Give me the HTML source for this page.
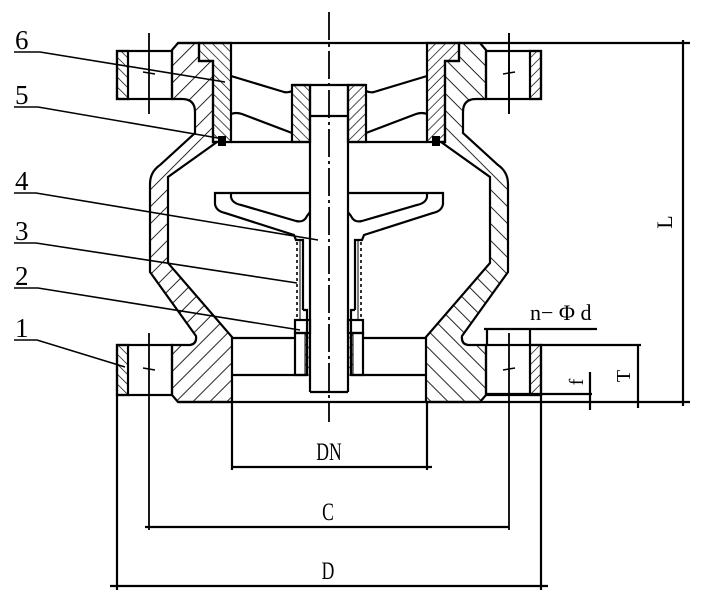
<!DOCTYPE html>
<html><head><meta charset="utf-8"><style>
html,body{margin:0;padding:0;background:#fff;}
svg{display:block;}
text{font-family:"Liberation Serif","Noto Serif CJK SC",serif;fill:#000;}
</style></head><body>
<svg width="711" height="610" viewBox="0 0 711 610" xmlns="http://www.w3.org/2000/svg">
<defs>
<pattern id="hA" patternUnits="userSpaceOnUse" width="12" height="12" patternTransform="rotate(45)">
<line x1="0" y1="0" x2="0" y2="12" stroke="#000" stroke-width="1.7"/></pattern>
<pattern id="hB" patternUnits="userSpaceOnUse" width="7" height="7" patternTransform="rotate(-45)">
<line x1="0" y1="0" x2="0" y2="7" stroke="#000" stroke-width="1.4"/></pattern>
<g id="half" fill="none" stroke="#000" stroke-width="2.2">
<path fill="url(#hA)" d="M178,43 L199,43 L199,61 L213,61 L213,142 L217,142 L168,177 L168,263 L232,337 L232,402 L178,402 L172,395 L172,345 L190,345 Q197,344 196,336 L150,272 L150,184 Q150,172 160,165 L195,133 L195,112 Q195,99 182,99 L172,99 L172,50 Z"/>
<path fill="url(#hB)" d="M199,43 L231,43 L231,142 L213,142 L213,61 L199,61 Z"/>
<rect x="218" y="136" width="8" height="10" fill="#000" stroke="none"/>
<rect x="117" y="51" width="55" height="48"/>
<rect x="117" y="51" width="11" height="48" fill="url(#hB)"/>
<rect x="117" y="345" width="55" height="50"/>
<rect x="117" y="345" width="11" height="50" fill="url(#hB)"/>
<line x1="149" y1="33" x2="149" y2="114" stroke-width="1.8"/>
<line x1="143" y1="72" x2="155" y2="74" stroke-width="1.5"/>
<line x1="143" y1="368" x2="155" y2="370" stroke-width="1.5"/>
<line x1="231" y1="142" x2="310" y2="142"/>
<path d="M231,76 L284,92 Q288,93 292,91"/>
<path d="M231,114 Q236,112 242,114 L292,133"/>
<rect x="292" y="85" width="18" height="57" fill="url(#hB)"/>
<line x1="292" y1="85" x2="329" y2="85"/>
<line x1="310" y1="85" x2="310" y2="116"/>
<line x1="310" y1="116" x2="329" y2="116"/>
<line x1="310" y1="116" x2="310" y2="392"/>
<line x1="310" y1="392" x2="329" y2="392"/>
<path d="M310,193 L215,193 L215,204 Q216,211 225,213 L294,235 L296,240 L303,240 L303,310"/>
<path d="M231,193 L231,197 Q232,203 241,205 L296,221 Q304,223 307,216 L310,212"/>
<line x1="297" y1="242" x2="297" y2="320" stroke-width="1.6" stroke-dasharray="3,3"/>
<line x1="300" y1="240" x2="300" y2="320" stroke-width="1"/>
<path d="M303,310 L307,310 L307,375"/>
<rect x="295" y="320" width="15" height="13"/>
<rect x="295" y="333" width="12" height="42"/>
<rect x="305" y="333" width="5" height="42" fill="url(#hB)" stroke-width="1"/>
<line x1="232" y1="338" x2="295" y2="338"/>
<line x1="232" y1="375" x2="307" y2="375"/>
</g>
</defs>

<use href="#half"/>
<use href="#half" transform="translate(658,0) scale(-1,1)"/>

<g fill="none" stroke="#000" stroke-width="2.2">
<line x1="509" y1="33" x2="509" y2="114" stroke-width="1.8"/>
<line x1="149" y1="333" x2="149" y2="530" stroke-width="1.8"/>
<line x1="509" y1="333" x2="509" y2="530" stroke-width="1.8"/>
<line x1="117" y1="395" x2="117" y2="590"/>
<line x1="541" y1="395" x2="541" y2="590"/>
<line x1="232" y1="402" x2="232" y2="470"/>
<line x1="427" y1="402" x2="427" y2="470"/>
<line x1="232" y1="467" x2="432" y2="467"/>
<line x1="145" y1="527" x2="509" y2="527"/>
<line x1="110" y1="586" x2="548" y2="586"/>
<line x1="178" y1="43" x2="690" y2="43"/>
<line x1="178" y1="402" x2="690" y2="402"/>
<line x1="683" y1="40" x2="683" y2="406"/>
<line x1="541" y1="345" x2="641" y2="345"/>
<line x1="638" y1="345" x2="638" y2="408"/>
<line x1="487" y1="394" x2="592" y2="394"/>
<line x1="590" y1="372" x2="590" y2="410"/>
<line x1="484" y1="329" x2="597" y2="329"/>
<line x1="487" y1="329" x2="487" y2="345"/>
<line x1="530" y1="329" x2="530" y2="345"/>
<line x1="329" y1="12" x2="329" y2="422" stroke-width="1.8" stroke-dasharray="28,4,3,4"/>
<g stroke-width="1.6">
<polyline points="14,52 40,52 225,82"/>
<polyline points="14,107 38,107 218,138"/>
<polyline points="14,193 36,193 318,240"/>
<polyline points="14,243 36,243 297,283"/>
<polyline points="14,288 38,288 300,330"/>
<polyline points="14,340 37,340 125,367"/>
</g>
</g>

<g font-size="27">
<text x="15" y="49">6</text>
<text x="15" y="104">5</text>
<text x="15" y="190">4</text>
<text x="15" y="240">3</text>
<text x="15" y="285">2</text>
<text x="15" y="337">1</text>
</g>
<g font-size="22">
<text x="329" y="460" text-anchor="middle" transform="translate(329,460) scale(0.8,1.15) translate(-329,-460)">DN</text>
<text x="328" y="520" text-anchor="middle" transform="translate(328,520) scale(0.8,1.15) translate(-328,-520)">C</text>
<text x="328" y="579" text-anchor="middle" transform="translate(328,579) scale(0.8,1.15) translate(-328,-579)">D</text>
<text x="530" y="320">n− Φ d</text>
<text transform="translate(672,222) rotate(-90)" text-anchor="middle">L</text>
<text transform="translate(630,376) rotate(-90)" text-anchor="middle" font-size="20">T</text>
<text transform="translate(583,382) rotate(-90)" text-anchor="middle" font-size="20">f</text>
</g>
</svg>
</body></html>
